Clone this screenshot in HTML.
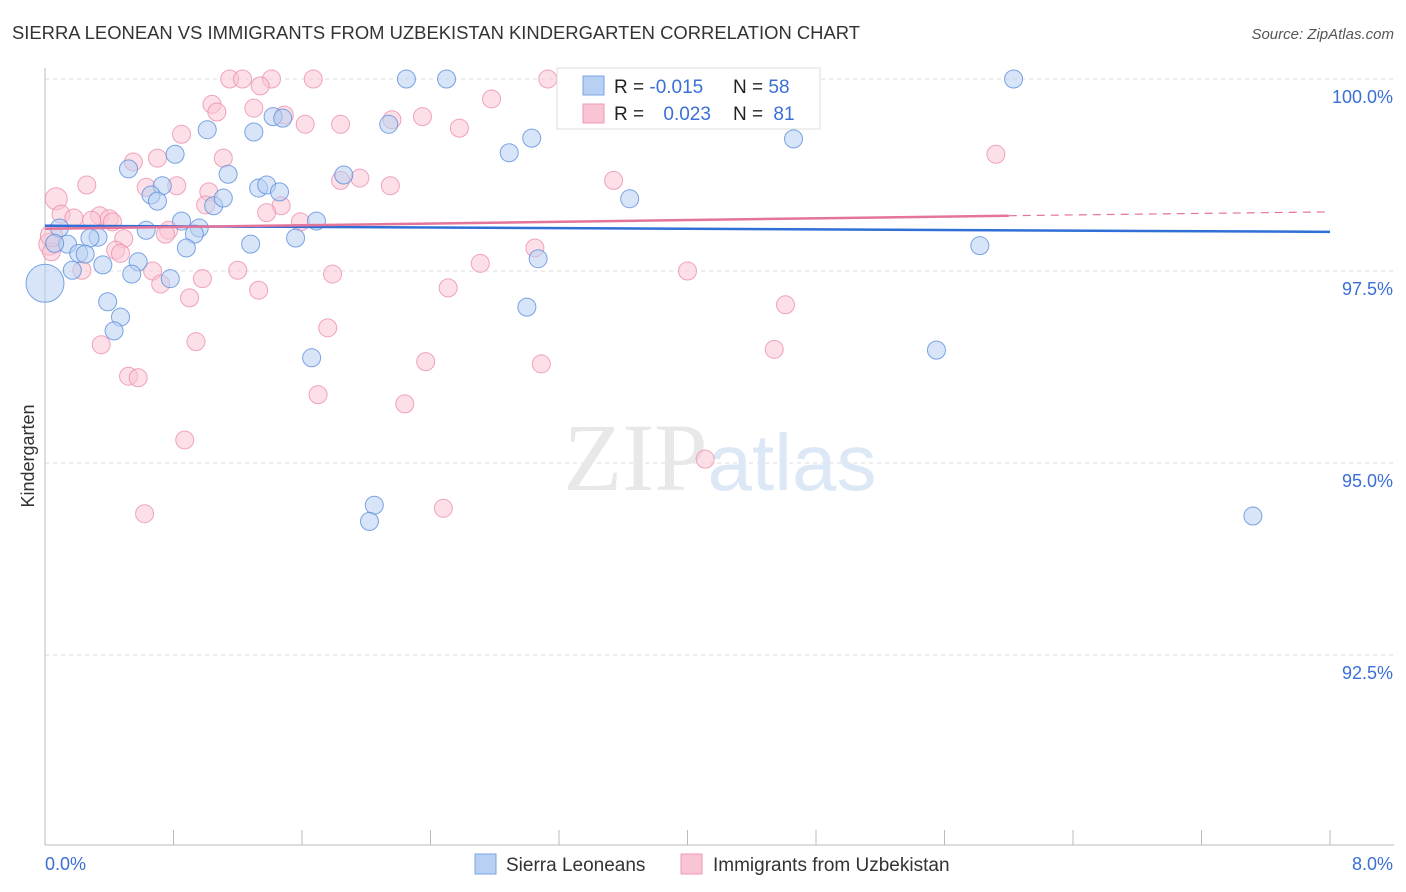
<!DOCTYPE html>
<html><head><meta charset="utf-8"><style>
body{margin:0;background:#fff;width:1406px;height:892px;overflow:hidden;font-family:"Liberation Sans",sans-serif}
svg{position:absolute;left:0;top:0}
</style></head><body>
<svg id="chart" width="1406" height="892">
<text x="12" y="39" font-size="18" fill="#333" textLength="848" lengthAdjust="spacingAndGlyphs">SIERRA LEONEAN VS IMMIGRANTS FROM UZBEKISTAN KINDERGARTEN CORRELATION CHART</text>
<text x="1394" y="39" font-size="15" fill="#555" font-style="italic" text-anchor="end">Source: ZipAtlas.com</text>
<text x="34" y="456" font-size="18" fill="#333" transform="rotate(-90 34 456)" text-anchor="middle">Kindergarten</text>
<g id="grid"></g>
<g id="axes"></g>
<text x="720" y="490" font-size="96" fill="#e8e8e8" text-anchor="middle" font-family="Liberation Serif,serif">ZIP<tspan fill="#dde8f7" font-family="Liberation Sans,sans-serif" font-size="80">atlas</tspan></text>
<g id="pts"></g>
<g id="trend"></g>
<g>
<rect x="557" y="68" width="263" height="61" fill="#fff" stroke="#ddd"/>
<rect x="583" y="76" width="21" height="19" fill="#b8d0f3" stroke="#7aa3e3"/>
<rect x="583" y="104" width="21" height="19" fill="#f9c4d4" stroke="#ee9ab5"/>
<text x="614" y="93" font-size="19" fill="#222">R = <tspan fill="#3a6fd6">-0.015</tspan></text>
<text x="733" y="93" font-size="19" fill="#222">N = <tspan fill="#3a6fd6">58</tspan></text>
<text x="614" y="120" font-size="19" fill="#222">R = <tspan fill="#3a6fd6" dx="14">0.023</tspan></text>
<text x="733" y="120" font-size="19" fill="#222">N = <tspan fill="#3a6fd6" dx="5">81</tspan></text>
</g>
<g>
<rect x="475" y="854" width="21" height="20" fill="#b8d0f3" stroke="#7aa3e3"/>
<text x="506" y="871" font-size="19" fill="#333">Sierra Leoneans</text>
<rect x="681" y="854" width="21" height="20" fill="#f9c4d4" stroke="#ee9ab5"/>
<text x="713" y="871" font-size="19" fill="#333">Immigrants from Uzbekistan</text>
</g>
</svg>
<script>
const blueX=[2.25,2.50,4.31,6.03,3.72,1.42,1.48,2.14,1.01,1.30,3.03,4.66,2.89,0.81,0.52,1.86,1.14,0.73,1.33,1.38,1.46,0.66,0.70,1.05,1.11,3.64,1.69,0.85,0.09,0.63,0.96,0.93,1.56,0.33,0.28,1.28,0.14,0.06,0.88,0.21,0.25,5.82,3.07,0.58,0.36,0.17,0.54,0.78,0.0,0.39,3.00,0.47,0.43,1.66,5.55,2.05,2.02,7.52];
const blueY=[100,100,100,100,99.56,99.51,99.49,99.41,99.34,99.31,99.23,99.22,99.04,99.02,98.83,98.75,98.76,98.61,98.58,98.62,98.53,98.49,98.41,98.35,98.45,98.44,98.15,98.15,98.06,98.03,98.06,97.98,97.93,97.94,97.93,97.85,97.85,97.86,97.80,97.73,97.72,97.83,97.66,97.62,97.58,97.51,97.46,97.40,97.34,97.10,97.03,96.90,96.72,96.37,96.47,94.45,94.24,94.31];
const pinkX=[1.15,1.23,1.41,1.67,3.13,3.28,4.02,1.34,2.78,1.04,1.07,1.30,1.49,2.35,2.16,1.62,1.84,2.58,0.85,0.55,0.70,1.11,5.92,1.84,1.96,2.15,3.54,0.26,0.63,0.82,1.02,0.07,1.00,1.47,1.38,0.10,0.34,0.40,0.18,0.29,0.77,0.75,0.49,0.03,0.04,0.44,0.47,3.05,0.67,0.23,1.20,1.79,2.71,4.00,0.98,1.33,0.72,2.51,0.90,4.61,1.76,0.35,0.94,2.37,4.54,3.09,0.52,0.58,1.70,2.24,0.87,4.11,0.62,2.48,1.59,0.42,0.04];
const pinkY=[100,100,100,100,100,100,100,99.91,99.74,99.67,99.57,99.62,99.53,99.51,99.47,99.41,99.41,99.36,99.28,98.92,98.97,98.97,99.02,98.68,98.71,98.61,98.68,98.62,98.59,98.61,98.53,98.44,98.36,98.35,98.26,98.24,98.22,98.18,98.19,98.16,98.03,97.98,97.92,97.85,97.75,97.77,97.73,97.80,97.50,97.51,97.51,97.46,97.60,97.50,97.40,97.25,97.33,97.28,97.15,97.06,96.76,96.54,96.58,96.32,96.48,96.29,96.13,96.11,95.89,95.77,95.30,95.05,94.34,94.41,98.14,98.14,97.96];
const yTicks=[100,97.5,95,92.5];
const yTickLabels=["100.0%","97.5%","95.0%","92.5%"];
const xTicks=[0.8,1.6,2.4,3.2,4.0,4.8,5.6,6.4,7.2,8.0];
const blueTrend=[[0,98.09],[8,98.01]];
const pinkTrend=[[0,98.05],[6.0,98.22],[8,98.27]];
const NS="http://www.w3.org/2000/svg";
const sx=v=>45+v*(1285/8);
const sy=v=>79+(100-v)*(192/2.5);
function mk(tag,attrs,parent){const e=document.createElementNS(NS,tag);for(const k in attrs)e.setAttribute(k,attrs[k]);parent.appendChild(e);return e;}
const grid=document.getElementById('grid'),axes=document.getElementById('axes'),pts=document.getElementById('pts'),trend=document.getElementById('trend');
yTicks.forEach((t,i)=>{
  const l=mk('line',{x1:45,x2:1394,y1:sy(t),y2:sy(t),stroke:'#ddd','stroke-dasharray':'4,4'},grid);
  
  
  const tx=mk('text',{x:1393,y:sy(t)+24,'font-size':18,fill:'#3a6fd6','text-anchor':'end'},axes);
  tx.textContent=yTickLabels[i];
  
  
});
mk('line',{x1:45,x2:45,y1:68,y2:845,stroke:'#bbb'},axes);
mk('line',{x1:45,x2:1394,y1:845,y2:845,stroke:'#bbb'},axes);
xTicks.forEach(t=>{
  const l=mk('line',{x1:sx(t),x2:sx(t),y1:830,y2:845,stroke:'#bbb'},axes);
  
  
});
const xl0=mk('text',{x:45,y:870,'font-size':18,fill:'#3a6fd6'},axes);xl0.textContent='0.0%';


const xl1=mk('text',{x:1393,y:870,'font-size':18,fill:'#3a6fd6','text-anchor':'end'},axes);xl1.textContent='8.0%';


function drawPts(X,Y,fill,stroke,name,bigIdx,bigR){
  X.forEach((x,i)=>{
    const c=mk('circle',{cx:sx(x),cy:sy(Y[i]),r:(bigIdx.includes(i)?bigR:9),fill:fill,'fill-opacity':0.55,stroke:stroke,'stroke-opacity':0.8,'stroke-width':1},pts);
    
    
  });
}
drawPts(pinkX,pinkY,'#f9c4d4','#ec8fae','point-uzbekistan',[31,76,43],11);
drawPts(blueX,blueY,'#b8d0f3','#5b8fdc','point-sierra-leonean',[48],19);
const bl=mk('line',{x1:sx(blueTrend[0][0]),y1:sy(blueTrend[0][1]),x2:sx(blueTrend[1][0]),y2:sy(blueTrend[1][1]),stroke:'#2f6fd6','stroke-width':2.5},trend);


const pl=mk('line',{x1:sx(pinkTrend[0][0]),y1:sy(pinkTrend[0][1]),x2:sx(pinkTrend[1][0]),y2:sy(pinkTrend[1][1]),stroke:'#e5749b','stroke-width':2.5},trend);


const pd=mk('line',{x1:sx(pinkTrend[1][0]),y1:sy(pinkTrend[1][1]),x2:sx(pinkTrend[2][0]),y2:sy(pinkTrend[2][1]),stroke:'#e5749b','stroke-width':1.2,'stroke-dasharray':'8,6'},trend);


</script>
</body></html>
